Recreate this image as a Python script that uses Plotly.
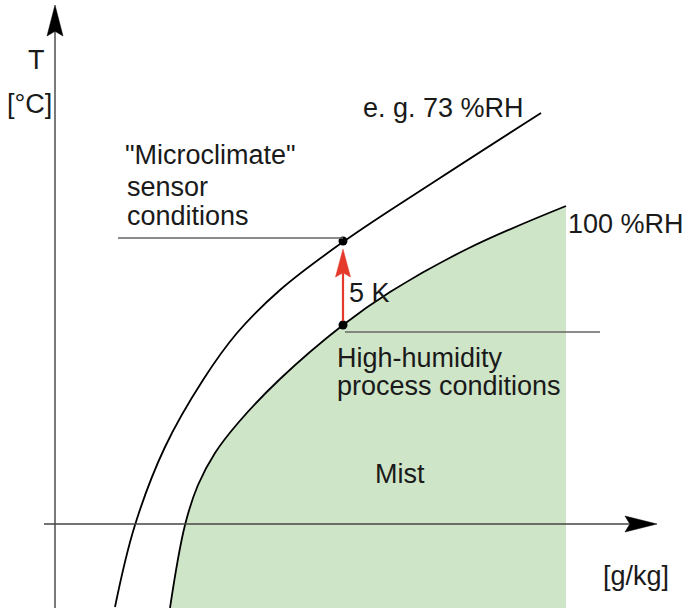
import plotly.graph_objects as go

# ---- data (schematic units: x = absolute humidity, T = temperature) ----
rh73_x = [60, 80, 110, 148, 182, 225, 288, 385, 486]
rh73_T = [-82, 0, 78, 145, 192, 235, 283, 347, 412]
rh100_x = [115, 130, 143, 160, 183, 225, 288, 335, 412, 511]
rh100_T = [-83, 0, 40, 72, 102, 146, 200, 233, 276, 319]
point_x = [288, 288]          # sensor point, process point
point_T = [284, 200]
mist_base_x = [115, 511]
mist_base_T = [-90, -90]

X_RANGE = [-55, 630]
T_RANGE = [-83, 525]

FONT = "Liberation Sans, Arial, Helvetica, sans-serif"
GREEN = "#cfe5c8"
RED = "#e5392b"

fig = go.Figure()

# mist region (filled under 100 %RH curve)
fig.add_trace(go.Scatter(x=mist_base_x, y=mist_base_T, mode="lines",
                         line=dict(width=0, color=GREEN), hoverinfo="skip"))
fig.add_trace(go.Scatter(x=rh100_x, y=rh100_T, mode="lines", fill="tonexty",
                         fillcolor=GREEN,
                         line=dict(color="black", width=1.8, shape="spline", smoothing=1.1),
                         hoverinfo="skip"))
# 73 %RH curve
fig.add_trace(go.Scatter(x=rh73_x, y=rh73_T, mode="lines",
                         line=dict(color="black", width=1.8, shape="spline", smoothing=1.1),
                         hoverinfo="skip"))

shapes = []

def line(x0, y0, x1, y1, color, width):
    shapes.append(dict(type="line", xref="x", yref="y", x0=x0, y0=y0, x1=x1, y1=y1,
                       line=dict(color=color, width=width), layer="above"))

def head(tx, ty, dx, dy, length, width, color):
    # dx, dy: unit direction of the arrow
    bx, by = tx - dx * length, ty - dy * length
    px, py = -dy, dx
    nx, ny = bx + dx * length * 0.15, by + dy * length * 0.15
    lx, ly = bx + px * width / 2, by + py * width / 2
    rx, ry = bx - px * width / 2, by - py * width / 2
    path = f"M{tx},{ty} L{lx},{ly} L{nx},{ny} L{rx},{ry} Z"
    shapes.append(dict(type="path", xref="x", yref="y", path=path,
                       fillcolor=color, line=dict(color=color, width=0.5), layer="above"))

# axes
line(0, -90, 0, 494, "#7a7a7a", 2)
head(0, 520, 0, 1, 31, 16, "black")
line(-11, 1, 574, 1, "#444444", 1.5)
head(602, 1, 1, 0, 32, 16, "black")
# guide lines
line(63, 287, 288, 287, "#666666", 1.5)
line(290, 193, 545, 193, "#666666", 1.5)
# 5 K arrow
line(288, 204, 288, 252, RED, 2.2)
head(288, 276, 0, 1, 28, 15, RED)

fig.add_trace(go.Scatter(x=point_x, y=point_T, mode="markers",
                         marker=dict(color="black", size=9), hoverinfo="skip"))

labels = [
    ("T", -19, 465, "center"),
    ("[°C]", -26, 421, "center"),
    ("e. g. 73 %RH", 388, 417, "center"),
    ("\"Microclimate\"", 68, 370, "left"),
    ("sensor", 70, 338, "left"),
    ("conditions", 70, 309, "left"),
    ("100 %RH", 511, 301, "left"),
    ("5 K", 292, 232, "left"),
    ("High-humidity", 280, 167, "left"),
    ("process conditions", 280, 139, "left"),
    ("Mist", 345, 51, "center"),
    ("[g/kg]", 581, -51, "center"),
]
annotations = [dict(text=t, x=x, y=y, xref="x", yref="y", xanchor=a, yanchor="middle",
                    showarrow=False, font=dict(family=FONT, size=27, color="#1a1a1a"))
               for t, x, y, a in labels]

fig.update_layout(
    width=685, height=608,
    margin=dict(l=0, r=0, t=0, b=0),
    paper_bgcolor="white", plot_bgcolor="white",
    showlegend=False,
    hovermode=False,
    xaxis=dict(range=X_RANGE, visible=False, fixedrange=True),
    yaxis=dict(range=T_RANGE, visible=False, fixedrange=True),
    shapes=shapes,
    annotations=annotations,
)

fig.write_html("out.html", config={"displayModeBar": False, "staticPlot": True},
               post_script="document.body.style.margin='0';document.body.style.overflow='hidden';")
